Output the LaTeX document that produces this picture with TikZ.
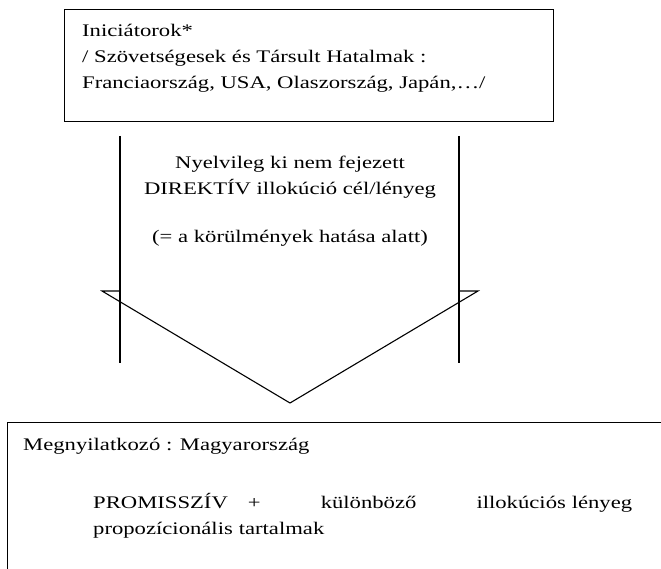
\documentclass[tikz,border=0pt]{standalone}
\usepackage{fontspec}
\setmainfont{Liberation Serif}[FakeStretch=1.28]
\usetikzlibrary{positioning}

\begin{document}
\begin{tikzpicture}[x=1pt,y=-1pt,
  every node/.style={inner sep=0pt,font=\fontsize{17.7}{26}\selectfont},
  frame/.style={draw,line width=1.3pt,rectangle,anchor=north west},
  txt/.style={anchor=base west,align=left},
  shaft/.style={line width=1.1pt}]
  \useasboundingbox (0,0) rectangle (661,569);
  \clip (0,0) rectangle (661,569);
	    % create the nodes
	    \node[frame,minimum width=489pt,minimum height=112pt] (init) at (64,9) {}; %initiators
	    \node[txt] (inittxt) at (82,89) {Iniciátorok*\\/ Szövetségesek és Társult Hatalmak :\\Franciaország, USA, Olaszország, Japán,…/};
	    \node[txt,anchor=base,align=center] (msg) at (290,243) {Nyelvileg ki nem fejezett\\DIREKTÍV illokúció cél/lényeg\\[22pt](= a körülmények hatása alatt)};
	    \node[frame,minimum width=720pt,minimum height=220pt] (spk) at (7,422) {}; %speaker
	    \node[txt] (spktxt) at (23,450) {Megnyilatkozó : Magyarország};
	    \node[txt,text width=539pt] (promtxt) at (93,508) {PROMISSZÍV\hspace{20pt}+\hfill különböző\hfill illokúciós lényeg\\propozícionális tartalmak};
	    % the arrow
	    \coordinate (lt) at (120,136);
	    \coordinate (lb) at (120,363);
	    \coordinate (rt) at (459,136);
	    \coordinate (rb) at (459,363);
	    \coordinate (hl) at (102,291);
	    \coordinate (hr) at (478,291);
	    \coordinate (tip) at (290,403);
	    \draw[shaft] (lt) -- (lb);
	    \draw[shaft] (rt) -- (rb);
	    \draw[shaft] (lt |- hl) -- (hl) -- (tip) -- (hr) -- (rt |- hr);
\end{tikzpicture}
\end{document}
